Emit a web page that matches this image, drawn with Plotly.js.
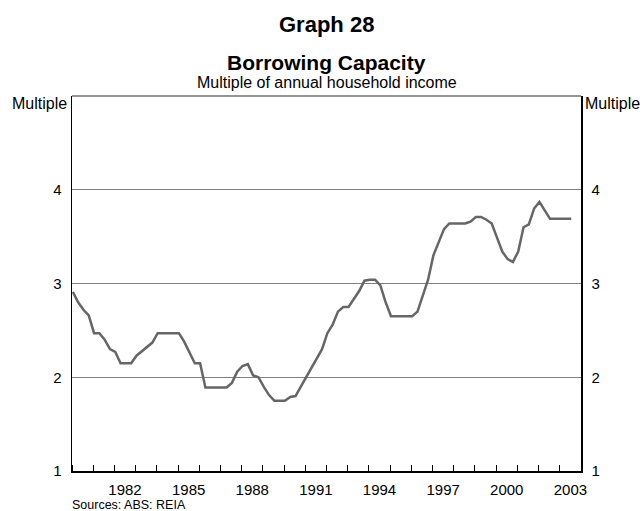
<!DOCTYPE html>
<html>
<head>
<meta charset="utf-8">
<script src="https://cdn.plot.ly/plotly-3.0.1.min.js"></script>
<style>
  html, body { margin: 0; padding: 0; background: #fff; }
  #chart { width: 643px; height: 511px; }
</style>
</head>
<body>
<div id="chart"></div>
<script>
// Quarterly observations, first quarter of 1980 to 2003
const startYear = 1980;
const borrowingCapacity = [
  2.91, 2.80, 2.72, 2.66, 2.47, 2.47, 2.40, 2.30,
  2.27, 2.15, 2.15, 2.15, 2.23, 2.28, 2.32, 2.37,
  2.47, 2.47, 2.47, 2.47, 2.47, 2.38, 2.27, 2.15,
  2.15, 1.89, 1.89, 1.89, 1.89, 1.89, 1.94, 2.06,
  2.12, 2.14, 2.02, 2.00, 1.90, 1.81, 1.75, 1.75,
  1.75, 1.79, 1.80, 1.90, 2.00, 2.09, 2.20, 2.30,
  2.47, 2.56, 2.70, 2.75, 2.75, 2.83, 2.92, 3.03,
  3.04, 3.04, 2.98, 2.80, 2.65, 2.65, 2.65, 2.65,
  2.65, 2.70, 2.86, 3.04, 3.30, 3.44, 3.58, 3.64,
  3.64, 3.64, 3.64, 3.66, 3.71, 3.71, 3.68, 3.64,
  3.50, 3.34, 3.26, 3.23, 3.34, 3.60, 3.63, 3.80,
  3.87, 3.78, 3.69, 3.69, 3.69, 3.69, 3.69
];
const yearLabels = ['1982', '1985', '1988', '1991', '1994', '1997', '2000', '2003'];
const yTicks = [1, 2, 3, 4];

const quarters = borrowingCapacity.map((_, i) => startYear + 0.04 + i * 0.25);
const labelPos = yearLabels.map(y => Number(y) + 0.5);

const FONT = 'Arial, "Liberation Sans", sans-serif';

const trace = {
  x: quarters,
  y: borrowingCapacity,
  type: 'scatter',
  mode: 'lines',
  line: { color: '#666666', width: 2.5 },
  hoverinfo: 'skip',
  showlegend: false
};

// plot box in pixels: left 72, right 581, top 96, bottom 471
const plotTop = 96, plotBottom = 471, plotH = plotBottom - plotTop;
const py = p => (plotBottom - p) / plotH;

const layout = {
  width: 643,
  height: 511,
  margin: { l: 72, r: 62, t: 96, b: 40, pad: 0 },
  paper_bgcolor: '#ffffff',
  plot_bgcolor: '#ffffff',
  font: { family: FONT, color: '#000000', size: 15 },
  showlegend: false,
  xaxis: {
    range: [1980, 2004],
    tickmode: 'array',
    tickvals: labelPos,
    ticktext: yearLabels,
    ticks: '',
    showgrid: false,
    zeroline: false,
    showline: true,
    linecolor: '#000000',
    linewidth: 1.5,
    tickfont: { family: FONT, size: 15, color: '#000' },
    ticklabelstandoff: 4,
    minor: {
      tickmode: 'linear',
      tick0: 1980,
      dtick: 1,
      ticks: 'inside',
      ticklen: 6,
      tickwidth: 1,
      tickcolor: '#000000',
      showgrid: false
    },
    fixedrange: true
  },
  yaxis: {
    range: [1, 5],
    tickmode: 'array',
    tickvals: yTicks,
    ticktext: yTicks.map(String),
    ticks: '',
    showgrid: true,
    gridcolor: '#808080',
    gridwidth: 1,
    zeroline: false,
    showline: true,
    linecolor: '#000000',
    linewidth: 1.5,
    tickfont: { family: FONT, size: 15, color: '#000' },
    ticklabelstandoff: 6,
    fixedrange: true
  },
  yaxis2: {
    range: [1, 5],
    overlaying: 'y',
    side: 'right',
    tickmode: 'array',
    tickvals: yTicks,
    ticktext: yTicks.map(String),
    ticks: '',
    showgrid: false,
    zeroline: false,
    showline: true,
    linecolor: '#000000',
    linewidth: 1.5,
    tickfont: { family: FONT, size: 15, color: '#000' },
    ticklabelstandoff: 6,
    fixedrange: true
  },
  shapes: [
    { type: 'line', xref: 'paper', yref: 'paper', x0: 0, x1: 1, y0: 1, y1: 1,
      line: { color: '#707070', width: 1.5 } }
  ],
  annotations: [
    { text: '<b>Graph 28</b>', xref: 'paper', yref: 'paper', x: 0.5, y: py(25),
      xanchor: 'center', yanchor: 'middle', showarrow: false,
      font: { family: FONT, size: 22, color: '#000' } },
    { text: '<b>Borrowing Capacity</b>', xref: 'paper', yref: 'paper', x: 0.5, y: py(62),
      xanchor: 'center', yanchor: 'middle', showarrow: false,
      font: { family: FONT, size: 21, color: '#000' } },
    { text: 'Multiple of annual household income', xref: 'paper', yref: 'paper', x: 0.5, y: py(82.5),
      xanchor: 'center', yanchor: 'middle', showarrow: false,
      font: { family: FONT, size: 16, color: '#000' } },
    { text: 'Multiple', xref: 'paper', yref: 'paper', x: 0, xshift: -3, y: py(103),
      xanchor: 'right', yanchor: 'middle', showarrow: false,
      font: { family: FONT, size: 16, color: '#000' } },
    { text: 'Multiple', xref: 'paper', yref: 'paper', x: 1, xshift: 2, y: py(103),
      xanchor: 'left', yanchor: 'middle', showarrow: false,
      font: { family: FONT, size: 16, color: '#000' } },
    { text: 'Sources: ABS: REIA', xref: 'paper', yref: 'paper', x: 0, xshift: -2, y: py(505),
      xanchor: 'left', yanchor: 'middle', showarrow: false,
      font: { family: FONT, size: 12.5, color: '#000' } }
  ]
};

// dummy invisible trace to bind the right-hand axis
const rightAxisTrace = {
  x: [quarters[0]], y: [borrowingCapacity[0]], yaxis: 'y2', type: 'scatter', mode: 'markers',
  marker: { opacity: 0 }, hoverinfo: 'skip', showlegend: false
};

Plotly.newPlot('chart', [trace, rightAxisTrace], layout, { staticPlot: true, displayModeBar: false });
</script>
</body>
</html>
